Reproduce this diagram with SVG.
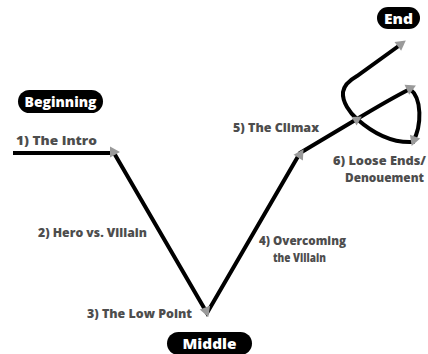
<svg xmlns="http://www.w3.org/2000/svg" width="428" height="354" viewBox="0 0 428 354">
<style>
.lbl{font-family:"Open Sans","DejaVu Sans",sans-serif;font-weight:800;font-size:12.5px;fill:#4d4d4d}
.pill{fill:#000}
.pt{font-family:"Open Sans","DejaVu Sans",sans-serif;font-weight:800;font-size:14px;fill:#fff;text-anchor:middle}
.ln{fill:none;stroke:#000;stroke-width:4;stroke-linejoin:miter;stroke-linecap:butt}
</style>
<defs>
<path id="ah" d="M1,0 L-9,-5.5 L-9,5.5 Z" fill="#9a9a9a"/>
</defs>
<rect width="428" height="354" fill="#fff"/>
<g id="connectors">
<path class="ln" d="M13,153 L114,153 L207,313 L300,153 L357,119 C372,110 392,98 410,89 C422,98 422,125 413,142 C395,143 375,135 357,119 C350,113 342,102 343,92 C344,85 350,80 357,76 L400,45"/>
<use href="#ah" transform="translate(119,152) rotate(0)"/>
<use href="#ah" transform="translate(208,316) rotate(70)"/>
<use href="#ah" transform="translate(303,150) rotate(-58)"/>
<use href="#ah" transform="translate(361,117) rotate(-31) scale(0.9)"/>
<use href="#ah" transform="translate(415,86) rotate(-25)"/>
<use href="#ah" transform="translate(412,145) rotate(110)"/>
<use href="#ah" transform="translate(405,41) rotate(-37)"/>
</g>
<g id="beginning"><rect class="pill" x="18" y="90" width="85" height="23" rx="11.5"/><text class="pt" x="60.5" y="106.5" textLength="72" lengthAdjust="spacingAndGlyphs">Beginning</text></g>
<g id="end"><rect class="pill" x="377" y="7" width="43" height="22" rx="11"/><text class="pt" x="398.5" y="23.5" textLength="29" lengthAdjust="spacingAndGlyphs">End</text></g>
<g id="middle"><rect class="pill" x="167" y="332" width="85" height="23" rx="11.5"/><text class="pt" x="209.5" y="348.5" textLength="54" lengthAdjust="spacingAndGlyphs">Middle</text></g>
<g id="intro"><text class="lbl" x="16" y="145" textLength="81" lengthAdjust="spacingAndGlyphs">1) The Intro</text></g>
<g id="hero"><text class="lbl" x="38" y="237" textLength="109" lengthAdjust="spacingAndGlyphs">2) Hero vs. Villain</text></g>
<g id="low"><text class="lbl" x="87" y="318" textLength="105" lengthAdjust="spacingAndGlyphs">3) The Low Point</text></g>
<g id="overcoming"><text class="lbl" x="259" y="245" textLength="87" lengthAdjust="spacingAndGlyphs">4) Overcoming</text><text class="lbl" x="273" y="262" textLength="53" lengthAdjust="spacingAndGlyphs">the Villain</text></g>
<g id="climax"><text class="lbl" x="233" y="132" textLength="86" lengthAdjust="spacingAndGlyphs">5) The Climax</text></g>
<g id="loose"><text class="lbl" x="333" y="165" textLength="93" lengthAdjust="spacingAndGlyphs">6) Loose Ends/</text><text class="lbl" x="345" y="182" textLength="79" lengthAdjust="spacingAndGlyphs">Denouement</text></g>
</svg>
